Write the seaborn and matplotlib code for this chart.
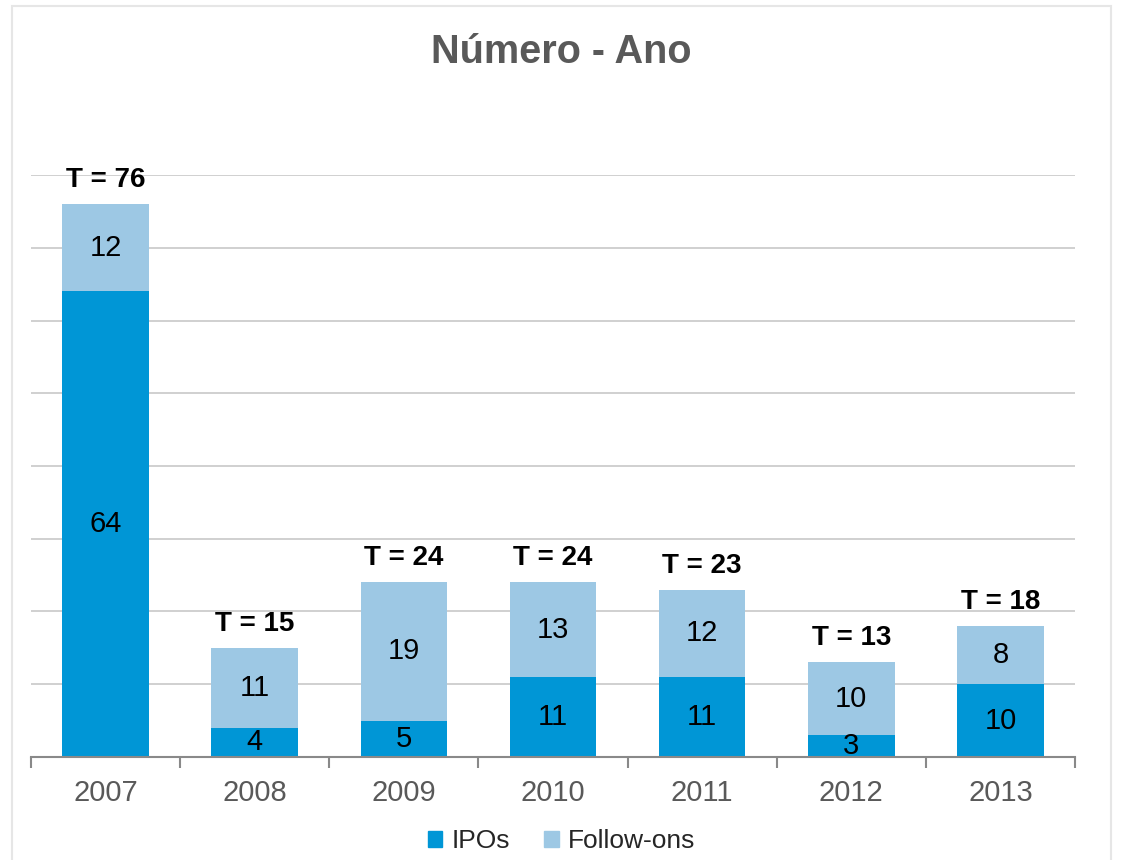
import seaborn as sns
import matplotlib.pyplot as plt
import numpy as np
from matplotlib.patches import Rectangle, Patch

# Data
years = ["2007", "2008", "2009", "2010", "2011", "2012", "2013"]
ipos = [64, 4, 5, 11, 11, 3, 10]
follow_ons = [12, 11, 19, 13, 12, 10, 8]
totals = [76, 15, 24, 24, 23, 13, 18]

ipo_color = "#0096D6"
fo_color = "#9DC8E4"

sns.set_theme(style="white")
plt.rcParams["font.family"] = ["Liberation Sans", "DejaVu Sans"]

fig = plt.figure(figsize=(11.23, 8.6), dpi=100)
ax = fig.add_axes([0.0276, 0.1198, 0.9297, 0.6767])

sns.barplot(x=years, y=ipos, color=ipo_color, width=0.58, saturation=1,
            linewidth=0, ax=ax)
sns.barplot(x=years, y=follow_ons, bottom=ipos, color=fo_color, width=0.58,
            saturation=1, linewidth=0, ax=ax)

ax.set_ylim(0, 80)
ax.set_xlim(-0.5, len(years) - 0.5)
ax.set_yticks(np.arange(10, 81, 10))
ax.yaxis.grid(True, color="#C4C4C4", linewidth=1.1)
ax.set_axisbelow(True)
ax.tick_params(axis="y", left=False, labelleft=False)
for s in ["top", "right", "left"]:
    ax.spines[s].set_visible(False)
ax.spines["bottom"].set_color("#898989")
ax.spines["bottom"].set_linewidth(1.5)

ax.set_xticks(range(len(years)))
ax.set_xticklabels(years, fontsize=21, color="#595959")
ax.tick_params(axis="x", which="major", length=0, pad=16)
ax.set_xticks(np.arange(-0.5, len(years), 1), minor=True)
ax.tick_params(axis="x", which="minor", length=8, width=1.5, color="#898989",
               bottom=True)
ax.set_xlabel("")
ax.set_ylabel("")

# segment labels
for i in range(len(years)):
    ax.text(i, ipos[i] / 2, str(ipos[i]), ha="center", va="center",
            fontsize=21, color="black")
    ax.text(i, ipos[i] + follow_ons[i] / 2, str(follow_ons[i]), ha="center",
            va="center", fontsize=21, color="black")
    ax.text(i, totals[i] + 3.3, f"T = {totals[i]}", ha="center", va="center",
            fontsize=20, fontweight="bold", color="black")

fig.text(0.5, 0.939, "Número - Ano", ha="center", va="center", fontsize=28.5,
         fontweight="bold", color="#595959")

handles = [Patch(color=ipo_color, label="IPOs"),
           Patch(color=fo_color, label="Follow-ons")]
fig.legend(handles=handles, loc="center", bbox_to_anchor=(0.5, 0.022), ncol=2,
           frameon=False, fontsize=19, handlelength=0.55, handleheight=0.55,
           handletextpad=0.35, columnspacing=1.3)

fig.patches.append(Rectangle((0.011, -0.01), 0.978, 1.003,
                             transform=fig.transFigure, fill=False,
                             edgecolor="#E6E6E6", linewidth=1.5))

fig.savefig("out.png", dpi=100)
